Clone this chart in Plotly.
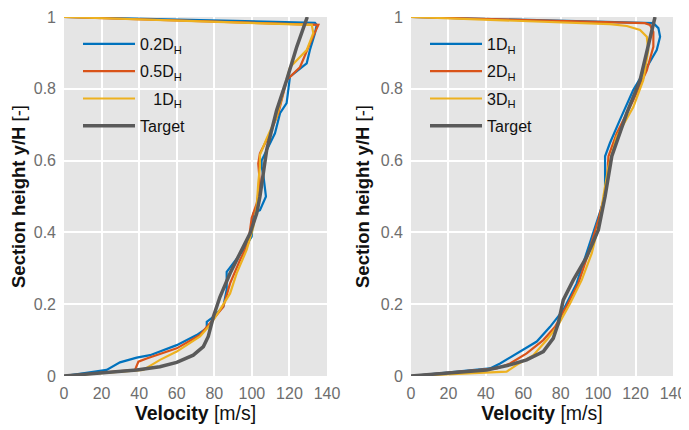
import plotly.graph_objects as go

# ---------------- data (velocity in m/s, height y/H) ----------------
# Left panel
L_02_v = [0, 22.7, 29.8, 38.7, 45.8, 60, 70.6, 76, 76, 79.5, 84.8, 86.6, 86.6, 90.1, 95.5, 99.9, 100.8,
          104.3, 107.5, 106.1, 105.2, 105.2, 107.9, 112.3, 115, 118.5, 120.3, 129.2, 130.9, 133.6, 134.5, 133.6, 0]
L_02_y = [0, 0.017, 0.038, 0.051, 0.058, 0.086, 0.114, 0.133, 0.151, 0.165, 0.193, 0.24, 0.29, 0.314, 0.351, 0.388, 0.453,
          0.462, 0.5, 0.56, 0.583, 0.6, 0.63, 0.676, 0.732, 0.76, 0.834, 0.871, 0.908, 0.955, 0.978, 0.984, 1.0]

L_05_v = [0, 37.8, 39.6, 44, 60, 72.4, 77.7, 84.8, 88.4, 93.7, 98.1, 99.9, 102.6, 104.3, 103.4, 104.3,
          109.7, 114.1, 118.5, 125.6, 130.9, 133.6, 135.4, 0]
L_05_y = [0, 0.017, 0.04, 0.049, 0.077, 0.114, 0.147, 0.193, 0.258, 0.323, 0.37, 0.44, 0.481, 0.537, 0.592, 0.62,
          0.676, 0.732, 0.824, 0.86, 0.926, 0.958, 0.978, 1.0]

L_1_v = [0, 42.2, 51.1, 60, 72.4, 77.7, 83, 88.4, 91.9, 97.2, 100.8, 102.6, 103.4, 104.3, 104.3, 107.9,
         113.2, 120.3, 129.2, 132.7, 131.9, 0]
L_1_y = [0, 0.017, 0.045, 0.068, 0.11, 0.142, 0.184, 0.23, 0.286, 0.351, 0.416, 0.472, 0.537, 0.583, 0.616, 0.662,
         0.722, 0.86, 0.908, 0.955, 0.978, 1.0]

L_T_v = [0, 38.7, 51, 60, 68.8, 74.2, 76.8, 79.5, 83, 88.4, 93.7, 99, 102.6, 104.3, 107.9, 113.2, 118.5, 123.9, 129.5]
L_T_y = [0, 0.017, 0.026, 0.038, 0.058, 0.082, 0.11, 0.165, 0.22, 0.286, 0.342, 0.397, 0.453, 0.5, 0.63, 0.74, 0.824, 0.917, 1.0]

# Right panel
R_1_v = [0, 42.2, 47.6, 56.5, 67.2, 74.3, 81.4, 88.5, 93.9, 99.2, 103.7, 103.7, 106.3, 111.7, 118.8, 126,
         131.3, 133.1, 132.2, 129.5, 0]
R_1_y = [0, 0.021, 0.035, 0.063, 0.096, 0.137, 0.184, 0.258, 0.342, 0.425, 0.5, 0.612, 0.649, 0.714, 0.797, 0.86,
         0.908, 0.945, 0.969, 0.983, 1.0]

R_2_v = [0, 45.8, 52.9, 61.8, 70.7, 77, 83.2, 89.4, 94.8, 100.1, 104.6, 105.5, 109.9, 118.8, 126, 129.5,
         129.5, 127.7, 125, 0]
R_2_y = [0, 0.021, 0.035, 0.063, 0.1, 0.137, 0.195, 0.258, 0.342, 0.435, 0.527, 0.612, 0.676, 0.769, 0.851, 0.917,
         0.958, 0.978, 0.983, 1.0]

R_3_v = [0, 51.1, 56.5, 65.4, 72.5, 78.7, 85, 91.2, 96.6, 101, 102.8, 105.5, 109.9, 118.8, 124.1, 126.8,
         126, 122.4, 115.3, 106.3, 0]
R_3_y = [0, 0.012, 0.031, 0.058, 0.1, 0.142, 0.202, 0.267, 0.342, 0.435, 0.5, 0.583, 0.667, 0.749, 0.824, 0.908,
         0.945, 0.964, 0.975, 0.98, 1.0]

R_T_v = [0, 40.4, 52.9, 61.8, 70.7, 76, 78.7, 81.4, 86.7, 93.9, 100.1, 102.8, 103.7, 107.3, 115.3, 122.4, 126.8, 130.4]
R_T_y = [0, 0.017, 0.031, 0.045, 0.068, 0.105, 0.147, 0.212, 0.267, 0.332, 0.407, 0.472, 0.5, 0.612, 0.732, 0.824, 0.926, 1.0]

left_names = ["0.2D<sub>H</sub>", "0.5D<sub>H</sub>", "\u00a0\u00a0\u00a01D<sub>H</sub>", "Target"]
right_names = ["1D<sub>H</sub>", "2D<sub>H</sub>", "3D<sub>H</sub>", "Target"]
x_ticks = [0, 20, 40, 60, 80, 100, 120, 140]
y_ticks = [0, 0.2, 0.4, 0.6, 0.8, 1]
y_tick_text = ["0", "0.2", "0.4", "0.6", "0.8", "1"]

COLORS = ["#0072BD", "#D95319", "#EDB120", "#5a5a5a"]
WIDTHS = [2.2, 2.2, 2.2, 3.5]

fig = go.Figure()
left_series = [(L_02_v, L_02_y), (L_05_v, L_05_y), (L_1_v, L_1_y), (L_T_v, L_T_y)]
right_series = [(R_1_v, R_1_y), (R_2_v, R_2_y), (R_3_v, R_3_y), (R_T_v, R_T_y)]

for i, (v, y) in enumerate(left_series):
    fig.add_trace(go.Scatter(x=v, y=y, mode="lines", name=left_names[i],
                             line=dict(color=COLORS[i], width=WIDTHS[i]),
                             xaxis="x", yaxis="y", legend="legend", legendgroup="L%d" % i))
for i, (v, y) in enumerate(right_series):
    fig.add_trace(go.Scatter(x=v, y=y, mode="lines", name=right_names[i],
                             line=dict(color=COLORS[i], width=WIDTHS[i]),
                             xaxis="x2", yaxis="y2", legend="legend2", legendgroup="R%d" % i))

# The page body keeps the browser's default 8px margin, so the figure is
# sized to fill the remaining window and positions are given in page pixels.
PAGE_OFF = 8
W, H = 689 - PAGE_OFF, 430 - PAGE_OFF


def fx(p):
    return (p - PAGE_OFF) / W


def fy(p):
    return 1 - (p - PAGE_OFF) / H


FAM = "Liberation Sans, Arial, Helvetica, sans-serif"
tickfont = dict(family=FAM, size=16, color="#6e6e6e")
xtitlefont = dict(family=FAM, size=19.5, color="#111111")
ytitlefont = dict(family=FAM, size=18.5, color="#111111")
ydom = [fy(376), fy(17)]

common_x = dict(range=[0, 140], tickvals=x_ticks, showgrid=True, gridcolor="white", gridwidth=2,
                zeroline=False, showline=False, ticks="", tickfont=tickfont, fixedrange=True,
                automargin=False, ticklabelstandoff=6,
                title=dict(text="<b>Velocity</b> [m/s]", font=xtitlefont, standoff=3))
common_y = dict(range=[0, 1], tickvals=y_ticks, ticktext=y_tick_text, showgrid=True, gridcolor="white",
                gridwidth=2, zeroline=False, showline=False, ticks="", tickfont=tickfont, domain=ydom,
                automargin=False, ticklabelstandoff=7, fixedrange=True,
                title=dict(text="<b>Section height y/H</b> [-]", font=ytitlefont, standoff=6))

legfont = dict(family=FAM, size=16, color="#111111")
legcommon = dict(xanchor="left", yanchor="top", bgcolor="rgba(0,0,0,0)", font=legfont,
                 tracegroupgap=3.5, itemwidth=52)
fig.update_layout(
    width=W, height=H,
    margin=dict(l=0, r=0, t=0, b=0),
    paper_bgcolor="white", plot_bgcolor="#e5e5e5",
    xaxis=dict(common_x, domain=[fx(64), fx(327)], anchor="y"),
    yaxis=dict(common_y, anchor="x"),
    xaxis2=dict(common_x, domain=[fx(411), fx(673)], anchor="y2"),
    yaxis2=dict(common_y, anchor="x2"),
    legend=dict(legcommon, x=fx(78), y=fy(27)),
    legend2=dict(legcommon, x=fx(425), y=fy(27)),
    showlegend=True,
)

fig.write_html("out.html")
